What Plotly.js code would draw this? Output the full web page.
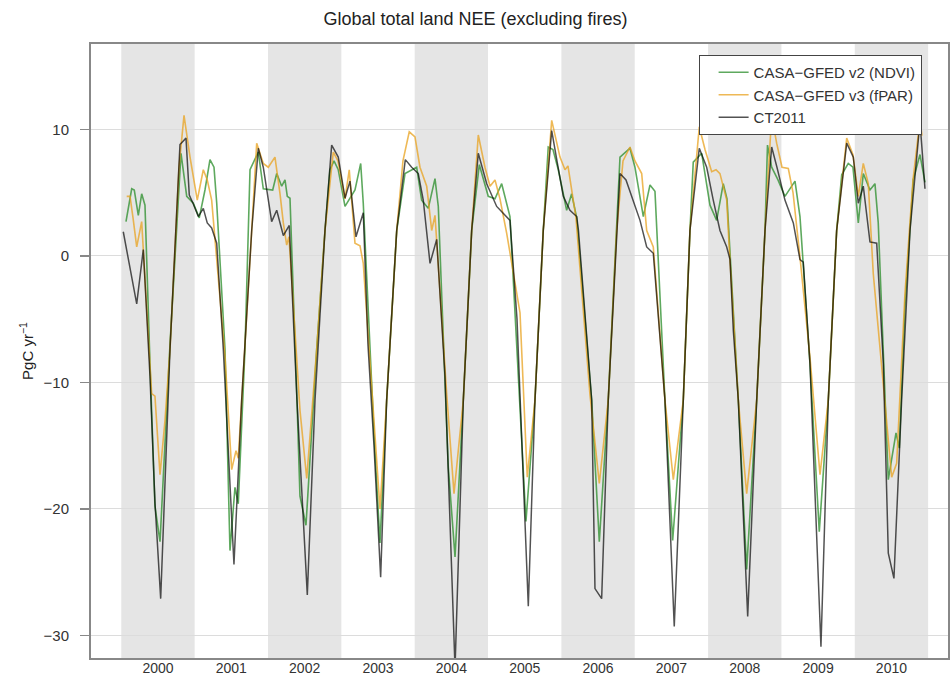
<!DOCTYPE html>
<html>
<head>
<meta charset="utf-8">
<script src="https://cdn.plot.ly/plotly-3.0.1.min.js"></script>
<style>html,body{margin:0;padding:0;background:#fff;}#chart{width:951px;height:677px;}</style>
</head>
<body>
<div id="chart"></div>
<script>
// Decimal-year time stamps and values (PgC/yr)
const ctTime = [2000.027,2000.210,2000.300,2000.391,2000.459,2000.537,2000.664,2000.800,2000.882,2000.927,2000.982,2001.050,2001.118,2001.172,2001.232,2001.301,2001.391,2001.536,2001.641,2001.778,2001.868,2001.936,2002.050,2002.119,2002.209,2002.290,2002.395,2002.536,2002.641,2002.777,2002.868,2002.958,2003.050,2003.118,2003.200,2003.299,2003.363,2003.445,2003.536,2003.618,2003.755,2003.872,2003.959,2004.049,2004.117,2004.209,2004.300,2004.413,2004.550,2004.663,2004.777,2004.867,2004.982,2005.118,2005.299,2005.395,2005.549,2005.640,2005.753,2005.868,2005.940,2006.026,2006.117,2006.209,2006.233,2006.413,2006.458,2006.549,2006.639,2006.754,2006.799,2006.881,2006.980,2007.072,2007.163,2007.253,2007.412,2007.539,2007.662,2007.753,2007.880,2007.981,2008.067,2008.162,2008.254,2008.299,2008.344,2008.412,2008.540,2008.663,2008.776,2008.867,2008.939,2009.048,2009.162,2009.253,2009.298,2009.389,2009.539,2009.639,2009.753,2009.890,2009.980,2010.048,2010.116,2010.207,2010.299,2010.389,2010.457,2010.534,2010.639,2010.753,2010.889,2010.957];
const ctValue = [1.9,-3.8,0.5,-9.5,-19.5,-27.1,-7.4,8.8,9.3,4.8,4.1,3.1,3.75,2.6,2.2,1.0,-7.4,-24.4,-11.4,2.0,8.5,7.0,2.7,3.6,1.6,2.4,-11.4,-26.8,-11.4,2.0,8.75,7.8,4.55,5.9,1.5,3.4,-7,-15,-25.4,-11.4,2.0,7.6,7.0,6.5,4.4,-0.6,1.3,-9.5,-32.6,-11.4,2.0,8.1,5.7,3.9,2.8,-5,-27.7,-11.4,2.0,9.9,7.5,4.7,3.6,3.1,2.0,-11.4,-26.3,-27.1,-11.4,2.0,6.5,6.0,4.4,2.8,0.7,0.2,-11.4,-29.3,-11.4,2.0,8.5,7.0,4.5,2.0,0.7,-0.3,-5.9,-11.4,-28.5,-11.4,2.0,8.6,7.0,4.4,2.6,-0.3,-0.5,-8.5,-30.9,-11.4,2.0,8.9,7.8,4.15,5.5,1.1,1.0,-8.5,-23.5,-25.5,-11.4,2.0,10.6,5.3];

const ndviTime = [2000.064,2000.142,2000.177,2000.232,2000.278,2000.323,2000.391,2000.459,2000.528,2000.664,2000.814,2000.892,2000.982,2001.063,2001.141,2001.209,2001.264,2001.301,2001.414,2001.482,2001.550,2001.595,2001.686,2001.755,2001.868,2001.936,2002.064,2002.119,2002.187,2002.232,2002.263,2002.300,2002.395,2002.436,2002.518,2002.664,2002.777,2002.845,2002.900,2002.958,2003.050,2003.186,2003.264,2003.299,2003.445,2003.527,2003.618,2003.755,2003.868,2004.027,2004.095,2004.185,2004.277,2004.322,2004.458,2004.550,2004.663,2004.777,2004.881,2005.003,2005.095,2005.186,2005.299,2005.517,2005.640,2005.753,2005.821,2005.885,2005.958,2006.072,2006.140,2006.209,2006.413,2006.517,2006.639,2006.754,2006.799,2006.935,2007.003,2007.117,2007.208,2007.276,2007.412,2007.517,2007.662,2007.753,2007.798,2007.913,2008.026,2008.117,2008.207,2008.258,2008.412,2008.526,2008.663,2008.776,2008.810,2008.867,2008.953,2009.048,2009.185,2009.253,2009.389,2009.516,2009.639,2009.753,2009.822,2009.911,2009.975,2010.048,2010.116,2010.207,2010.275,2010.320,2010.412,2010.457,2010.562,2010.607,2010.684,2010.797,2010.889,2010.957];
const ndviValue = [2.7,5.3,5.2,3.2,4.9,4.0,-8.5,-19.8,-22.6,-7.0,8.1,4.7,4.15,3.0,5.2,7.6,7.0,4.15,-7.4,-23.3,-18.3,-19.6,-7.4,6.8,8.2,5.3,5.2,6.5,5.5,6.0,4.7,4.55,-11.4,-19.0,-21.3,-7.4,2.0,6.8,7.5,6.8,3.9,5.2,7.3,4.15,-14,-22.7,-11.4,2.0,6.5,7.0,4.4,3.75,6.1,3.9,-16.7,-23.8,-11.4,2.0,7.2,4.7,4.5,5.7,3.1,-21.0,-11.4,2.0,8.6,8.4,6.8,3.6,4.9,3.0,-11.4,-22.6,-11.4,2.0,7.8,8.5,7.0,3.1,5.6,5.1,-11.4,-22.5,-11.4,2.0,7.4,8.1,4.0,2.8,5.7,4.5,-11.4,-24.8,-11.4,2.0,8.75,7.0,6.0,4.7,5.9,3.1,-8.5,-21.8,-11.4,2.0,6.4,7.3,7.0,2.6,6.5,5.2,5.7,2.6,-11.4,-17.7,-14.0,-15.2,-4,6.0,8.0,5.8];

const fparTime = [2000.074,2000.119,2000.160,2000.210,2000.278,2000.337,2000.414,2000.459,2000.528,2000.596,2000.664,2000.787,2000.855,2000.937,2001.036,2001.118,2001.172,2001.232,2001.277,2001.414,2001.505,2001.564,2001.595,2001.686,2001.778,2001.846,2001.936,2002.004,2002.095,2002.164,2002.209,2002.255,2002.286,2002.436,2002.528,2002.664,2002.777,2002.890,2002.954,2003.050,2003.108,2003.186,2003.254,2003.299,2003.436,2003.527,2003.618,2003.755,2003.840,2003.926,2004.004,2004.072,2004.164,2004.232,2004.277,2004.436,2004.536,2004.663,2004.777,2004.867,2004.958,2005.027,2005.095,2005.163,2005.254,2005.436,2005.535,2005.640,2005.753,2005.868,2005.981,2006.049,2006.090,2006.140,2006.199,2006.390,2006.517,2006.639,2006.754,2006.840,2006.935,2007.003,2007.095,2007.163,2007.253,2007.412,2007.526,2007.662,2007.753,2007.880,2007.958,2008.049,2008.108,2008.162,2008.254,2008.285,2008.412,2008.526,2008.663,2008.776,2008.867,2008.935,2009.008,2009.094,2009.158,2009.253,2009.389,2009.526,2009.639,2009.753,2009.890,2009.975,2010.048,2010.116,2010.184,2010.252,2010.412,2010.503,2010.571,2010.684,2010.794,2010.889,2010.916];
const fparValue = [4.7,4.7,3.0,0.7,2.7,-3,-10.9,-11.1,-17.3,-13,-7.4,7.0,11.1,7.8,4.4,6.8,6.0,4.4,1.25,-8,-16.9,-15.4,-16,-7.4,2.0,8.9,7.3,7.0,7.8,4.9,2.6,0.85,1.5,-12.2,-17.6,-7.4,2.0,8.2,7.5,4.5,6.8,1.0,0.8,-0.6,-12.5,-20.0,-11.4,2.0,7.5,9.8,9.4,7.0,5.5,2.0,3.2,-10.9,-18.8,-11.4,2.0,9.55,7.0,5.5,6.0,4.5,1.8,-4.5,-17.5,-11.4,2.0,10.7,7.8,6.8,7.1,5.2,3.0,-11,-18.0,-11.4,2.0,7.5,8.6,7.5,6.5,2.0,0.7,-11.4,-17.7,-11.4,2.0,10.2,8.4,6.65,6.8,6.5,4.4,1.0,-11.4,-18.8,-11.4,2.0,11.1,8.9,7.0,6.9,5.0,-0.1,-8,-17.3,-11.4,2.0,9.3,8.0,4.7,7.3,5.7,-1.4,-11.4,-17.5,-16.4,-3,6,10.7,9.5];

const seriesNames = ['CASA\u2212GFED v2 (NDVI)', 'CASA\u2212GFED v3 (fPAR)', 'CT2011'];
const shadedYears = [2000, 2002, 2004, 2006, 2008, 2010];
const tickYears = [2000, 2001, 2002, 2003, 2004, 2005, 2006, 2007, 2008, 2009, 2010];
const yTicks = [-30, -20, -10, 0, 10];

const FONT = 'Liberation Sans, Arial, Helvetica, sans-serif';

const traces = [
  {x: ndviTime, y: ndviValue, name: seriesNames[0], type: 'scatter', mode: 'lines',
   line: {color: 'rgba(40,140,40,0.75)', width: 1.6}},
  {x: fparTime, y: fparValue, name: seriesNames[1], type: 'scatter', mode: 'lines',
   line: {color: 'rgba(232,162,30,0.75)', width: 1.6}},
  {x: ctTime, y: ctValue, name: seriesNames[2], type: 'scatter', mode: 'lines',
   line: {color: 'rgba(0,0,0,0.68)', width: 1.5}}
];

const shapes = shadedYears.map(yr => ({
  type: 'rect', xref: 'x', yref: 'paper', x0: yr, x1: yr + 1, y0: 0, y1: 1,
  fillcolor: '#e5e5e5', line: {width: 0}, layer: 'below'
}));

const layout = {
  width: 951, height: 677,
  margin: {l: 91, r: 3, t: 44, b: 19, pad: 0},
  paper_bgcolor: '#ffffff', plot_bgcolor: '#ffffff',
  font: {family: FONT, size: 16, color: '#333'},
  title: {text: 'Global total land NEE (excluding fires)', font: {family: FONT, size: 18, color: '#222'},
          xref: 'container', x: 0.5, xanchor: 'center', yref: 'container', y: 0.972, yanchor: 'middle'},
  xaxis: {
    range: [1999.587, 2011.271], tickmode: 'array',
    tickvals: tickYears.map(y => y + 0.5), ticktext: tickYears.map(String),
    showgrid: false, zeroline: false, ticks: '', ticklabelstandoff: -4,
    showline: true, mirror: true, linecolor: '#888', linewidth: 2,
    tickfont: {family: FONT, size: 14, color: '#333'}
  },
  yaxis: {
    range: [-31.79, 16.74], tickmode: 'array', tickvals: yTicks,
    ticktext: yTicks.map(v => v < 0 ? '\u2212' + Math.abs(v) : String(v)),
    showgrid: true, gridcolor: '#dcdcdc', gridwidth: 1, zeroline: false,
    ticks: 'outside', ticklen: 9, tickwidth: 1.5, tickcolor: '#888',
    ticklabelstandoff: 8,
    showline: true, mirror: true, linecolor: '#888', linewidth: 2,
    tickfont: {family: FONT, size: 15, color: '#333'},
    title: {text: 'PgC yr<sup>\u22121</sup>', font: {family: FONT, size: 15, color: '#222'}, standoff: 6}
  },
  shapes: shapes,
  showlegend: true,
  legend: {x: 0.709, y: 0.982, xanchor: 'left', yanchor: 'top', bgcolor: '#ffffff',
           bordercolor: '#444', borderwidth: 1, indentation: 14,
           font: {family: FONT, size: 15, color: '#333'}, tracegroupgap: 0}
};

Plotly.newPlot('chart', traces, layout, {displayModeBar: false, staticPlot: true});
</script>
</body>
</html>
